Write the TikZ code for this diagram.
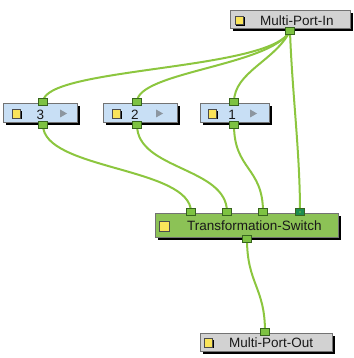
\documentclass[tikz,border=0pt]{standalone}
\usepackage{fontspec}
\setmainfont{Liberation Sans}
\usetikzlibrary{shadows}
\pgfdeclarelayer{bg}
\pgfsetlayers{bg,main}
\definecolor{wirec}{RGB}{140,198,63}
\definecolor{portc}{RGB}{125,194,66}
\definecolor{portb}{RGB}{55,100,30}
\definecolor{darkport}{RGB}{30,140,80}
\definecolor{bluef}{RGB}{200,223,245}
\definecolor{grayf}{RGB}{210,210,210}
\definecolor{greenf}{RGB}{140,194,86}
\definecolor{iconc}{RGB}{250,228,90}
\definecolor{arrowc}{RGB}{140,150,160}
\tikzset{
  x=1pt,y=-1pt,
  box/.style={draw=black!55, line width=0.6pt, minimum height=#1, inner sep=0pt, anchor=north west,
    drop shadow={shadow xshift=2.5pt, shadow yshift=-2.5pt, fill=black, opacity=1}},
  bluebox/.style={box=19pt, fill=bluef},
  graybox/.style={box=18pt, fill=grayf},
  greenbox/.style={box=24pt, fill=greenf},
  icon/.style={draw=black!70, fill=iconc, minimum width=8.5pt, minimum height=8.5pt, inner sep=0pt,
    drop shadow={shadow xshift=1.4pt, shadow yshift=-1.4pt, fill=black, opacity=1}},
  lbl/.style={font=\fontsize{13.5}{15}\selectfont, inner sep=0pt, text=black!90, anchor=base west},
  port/.style={draw=portb, fill=portc, line width=0.5pt, minimum width=9pt, minimum height=7pt, inner sep=0pt},
  dport/.style={port, fill=darkport},
  wire/.style={draw=wirec, line width=2pt}
}
\begin{document}
\begin{tikzpicture}
\useasboundingbox (0,0) rectangle (353,358);
% Multi-Port-In
\node[graybox, minimum width=120pt] (inbox) at (230,10) {};
\node[icon] (inicon) at (239,20) {};
\node[lbl] (intext) at (260,25.3) {Multi-Port-In};
% nodes 3,2,1
\node[bluebox, minimum width=74pt] (b3) at (3,103) {};
\node[icon] (i3) at (16,113.5) {};
\node[lbl, anchor=base] (t3) at (40.5,120) {3};
\fill[arrowc] (60,109.5) -- (67,113.5) -- (60,117.5) -- cycle;
\node[bluebox, minimum width=74pt] (b2) at (103,103) {};
\node[icon] (i2) at (116,113.5) {};
\node[lbl, anchor=base] (t2) at (135,120) {2};
\fill[arrowc] (156,109.5) -- (163,113.5) -- (156,117.5) -- cycle;
\node[bluebox, minimum width=69pt] (b1) at (200,103) {};
\node[icon] (i1) at (212,113.5) {};
\node[lbl, anchor=base] (t1) at (232,120) {1};
\fill[arrowc] (250,109.5) -- (257,113.5) -- (250,117.5) -- cycle;
% Transformation-Switch
\node[greenbox, minimum width=183pt] (sw) at (155,213) {};
\node[icon, minimum width=9.5pt, minimum height=9.5pt] (isw) at (164,226) {};
\node[lbl] (tsw) at (187,230) {Transformation-Switch};
% Multi-Port-Out
\node[graybox, minimum width=132pt] (outbox) at (200,333) {};
\node[icon] (outicon) at (208,342.5) {};
\node[lbl] (outtext) at (229,347.5) {Multi-Port-Out};
% ports
\node[port] (pin) at (290,31) {};
\node[port] (p3t) at (43,102) {};
\node[port] (p3b) at (43,125) {};
\node[port] (p2t) at (137,102) {};
\node[port] (p2b) at (137,125) {};
\node[port] (p1t) at (234,102) {};
\node[port] (p1b) at (234,125) {};
\node[port] (s1) at (191,212) {};
\node[port] (s2) at (227,212) {};
\node[port] (s3) at (263,212) {};
\node[dport] (s4) at (300,212) {};
\fill[portc] (s4.center) circle (0.9pt);
\node[port] (sb) at (247,239) {};
\node[port] (pout) at (265,332) {};
% wires
\begin{pgfonlayer}{bg}
\draw[wire] (pin.center) .. controls +(-20,40) and +(0,-35) .. (p3t.center);
\draw[wire] (pin.center) .. controls +(-20,35) and +(0,-30) .. (p2t.center);
\draw[wire] (pin.center) .. controls +(-15,30) and +(0,-30) .. (p1t.center);
\draw[wire] (pin.center) .. controls +(2,60) and +(0,-60) .. (s4.center);
\draw[wire] (p3b.center) .. controls +(0,45) and +(0,-45) .. (s1.center);
\draw[wire] (p2b.center) .. controls +(0,45) and +(0,-45) .. (s2.center);
\draw[wire] (p1b.center) .. controls +(0,45) and +(0,-45) .. (s3.center);
\draw[wire] (sb.center) .. controls +(0,45) and +(0,-45) .. (pout.center);
\end{pgfonlayer}
\end{tikzpicture}
\end{document}
